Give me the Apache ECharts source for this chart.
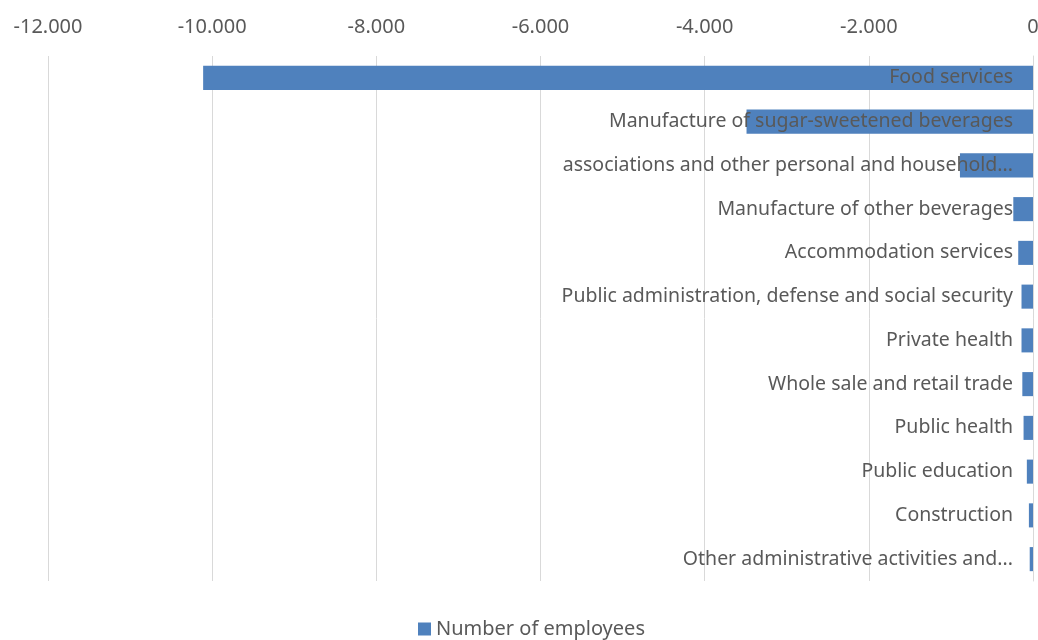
<!DOCTYPE html>
<html>
<head>
<meta charset="utf-8">
<script src="https://cdn.jsdelivr.net/npm/echarts@6/dist/echarts.min.js"></script>
<style>html,body{margin:0;padding:0;background:#fff}#c{width:1038px;height:640px}</style>
</head>
<body>
<div id="c"></div>
<script>
const categories = [
  "Food services",
  "Manufacture of sugar-sweetened beverages",
  "associations and other personal and household...",
  "Manufacture of other beverages",
  "Accommodation services",
  "Public administration, defense and social security",
  "Private health",
  "Whole sale and retail trade",
  "Public health",
  "Public education",
  "Construction",
  "Other administrative activities and..."
];
const employees = [-10110, -3490, -890, -240, -180, -140, -140, -130, -115, -75, -50, -40];
const seriesName = "Number of employees";
const axisMin = -12000, axisMax = 0, axisStep = 2000;

const chart = echarts.init(document.getElementById('c'));
chart.setOption({
  animation: false,
  textStyle: { fontFamily: 'Noto Sans' },
  grid: { left: 48, right: 5, top: 56, bottom: 59, containLabel: false, outerBoundsMode: 'none' },
  legend: {
    top: 614, left: 413, icon: 'rect', itemWidth: 13, itemHeight: 13, itemGap: 6,
    textStyle: { color: '#595959', fontSize: 20, fontFamily: 'Noto Sans' },
    data: [seriesName]
  },
  xAxis: {
    type: 'value', position: 'top', min: axisMin, max: axisMax, interval: axisStep,
    axisLine: { show: false }, axisTick: { show: false },
    splitLine: { show: true, lineStyle: { color: '#d9d9d9', width: 1 } },
    axisLabel: {
      color: '#595959', fontSize: 20, margin: 19, hideOverlap: false,
      formatter: v => {
        const s = Math.abs(v).toString().replace(/\B(?=(\d{3})+(?!\d))/g, '.');
        return (v < 0 ? '-' : '') + s;
      }
    }
  },
  yAxis: {
    type: 'category', position: 'right', inverse: true, data: categories, z: 10,
    axisLine: { show: true, lineStyle: { color: '#d9d9d9' } }, axisTick: { show: false },
    axisLabel: { inside: true, margin: 20, color: '#595959', fontSize: 19.5, fontFamily: 'Noto Sans' }
  },
  series: [{
    name: seriesName, type: 'bar', data: employees, barCategoryGap: '45%',
    itemStyle: { color: '#4F81BD' }
  }]
});
</script>
</body>
</html>
